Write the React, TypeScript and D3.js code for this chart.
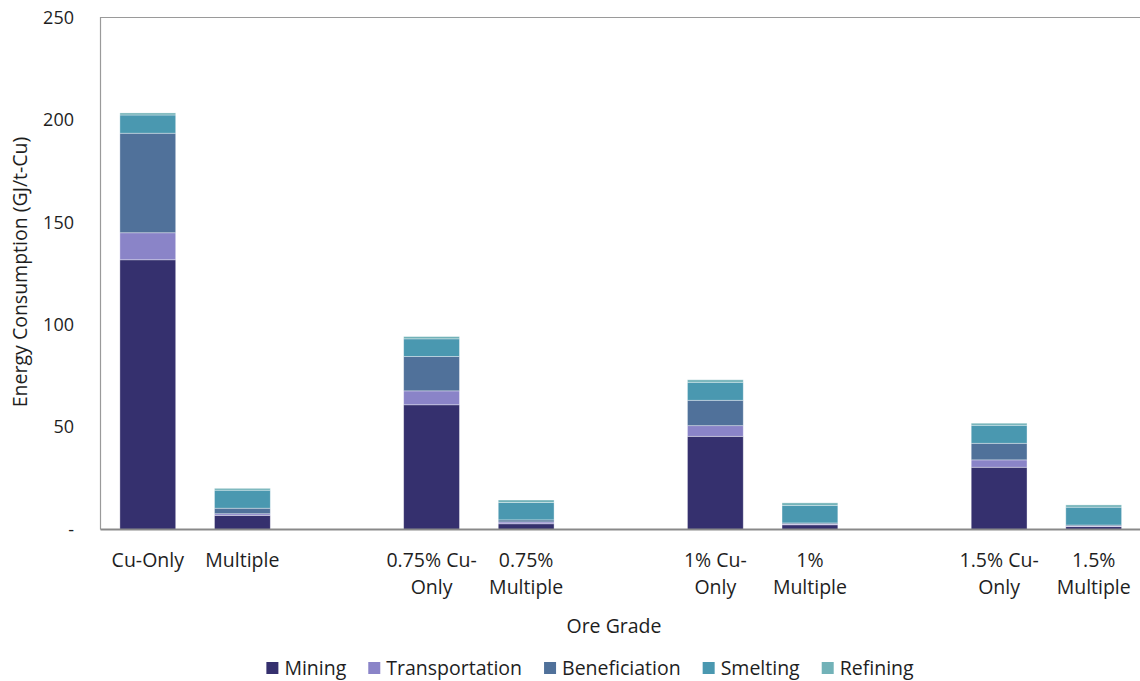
import { useRef, useEffect } from "react";
import * as d3 from "d3";

const categories = ["Cu-Only", "Multiple", "gap1", "0.75% Cu-Only", "0.75% Multiple", "gap2", "1% Cu-Only", "1% Multiple", "gap3", "1.5% Cu-Only", "1.5% Multiple"];
const categoryLines: string[][] = [["Cu-Only"], ["Multiple"], [], ["0.75% Cu-", "Only"], ["0.75%", "Multiple"], [], ["1% Cu-", "Only"], ["1%", "Multiple"], [], ["1.5% Cu-", "Only"], ["1.5%", "Multiple"]];

const mining = [131.7, 6.9, 0, 60.9, 2.8, 0, 45.5, 2.3, 0, 30.4, 1.4];
const transportation = [13.2, 0.8, 0, 6.8, 0.9, 0, 5.2, 0.4, 0, 3.6, 0.3];
const beneficiation = [48.6, 2.7, 0, 16.8, 1.0, 0, 12.4, 0.5, 0, 8.1, 0.5];
const smelting = [8.9, 8.8, 0, 8.6, 8.5, 0, 8.8, 8.6, 0, 8.8, 8.7];
const refining = [1.0, 0.9, 0, 1.1, 1.2, 0, 1.2, 1.2, 0, 1.0, 1.1];

const seriesNames = ["Mining", "Transportation", "Beneficiation", "Smelting", "Refining"];
const seriesColors = ["#35306e", "#8a84c8", "#50719a", "#4a98b0", "#72b2b8"];
const yTicks = [0, 50, 100, 150, 200, 250];

const FONT = "'Open Sans', sans-serif";
const FS = 19.5;

export default function App() {
  const ref = useRef<SVGSVGElement>(null);

  useEffect(() => {
    document.body.style.margin = "0";
    if (!ref.current) return;
    const svg = d3.select(ref.current);
    svg.selectAll("*").remove();

    const left = 100.5, right = 1141, top = 17.5, bottom = 529.5;
    const allSeries = [mining, transportation, beneficiation, smelting, refining];
    const rows = categories.map((c, i) => {
      const r: any = { cat: c };
      seriesNames.forEach((s, j) => (r[s] = allSeries[j][i]));
      return r;
    });
    const stacked = d3.stack<any>().keys(seriesNames)(rows);

    const x = d3.scaleBand().domain(categories).range([left, right]).paddingInner(0.41).paddingOuter(0.205);
    const y = d3.scaleLinear().domain([0, 250]).range([bottom, top]);

    // frame
    svg.append("path")
      .attr("d", `M${right + 10},${top}H${left}V${bottom}`)
      .attr("fill", "none").attr("stroke", "#9a9a9a").attr("stroke-width", 1.2);

    // bars
    stacked.forEach((layer, j) => {
      svg.append("g").selectAll("rect").data(layer).enter().append("rect")
        .attr("x", (d: any) => x(d.data.cat)!)
        .attr("width", x.bandwidth())
        .attr("y", d => y(d[1]))
        .attr("height", d => Math.max(0, y(d[0]) - y(d[1])))
        .attr("fill", seriesColors[j])
        .attr("stroke", "rgba(255,255,255,0.45)")
        .attr("stroke-width", 0.8);
    });

    // bottom axis line
    svg.append("line").attr("x1", left).attr("x2", right + 10).attr("y1", bottom).attr("y2", bottom)
      .attr("stroke", "#898989").attr("stroke-width", 2);

    // y tick labels
    svg.append("g").selectAll("text").data(yTicks).enter().append("text")
      .attr("x", 74).attr("y", d => y(d)).attr("dy", "0.35em")
      .attr("text-anchor", "end").attr("font-family", FONT).attr("font-size", 18).attr("fill", "#1e1e1e")
      .text(d => (d === 0 ? "-" : String(d)));

    // x labels
    categories.forEach((c, i) => {
      const t = svg.append("text").attr("text-anchor", "middle").attr("font-family", FONT)
        .attr("font-size", FS).attr("fill", "#1e1e1e");
      categoryLines[i].forEach((line, k) => {
        t.append("tspan").attr("x", x(c)! + x.bandwidth() / 2).attr("y", 560 + k * 27).attr("dy", "0.35em").text(line);
      });
    });

    // axis titles
    svg.append("text").attr("x", 614).attr("y", 626).attr("dy", "0.35em").attr("text-anchor", "middle")
      .attr("font-family", FONT).attr("font-size", FS).attr("fill", "#1e1e1e").text("Ore Grade");
    svg.append("text").attr("transform", "translate(20,272) rotate(-90)").attr("dy", "0.35em")
      .attr("text-anchor", "middle").attr("font-family", FONT).attr("font-size", FS).attr("fill", "#1e1e1e")
      .text("Energy Consumption (GJ/t-Cu)");

    // legend
    const lg = svg.append("g");
    const gap = 22;
    let cx = 0;
    seriesNames.forEach((s, j) => {
      const g = lg.append("g").attr("transform", `translate(${cx},0)`);
      g.append("rect").attr("x", 0).attr("y", -6).attr("width", 12).attr("height", 12).attr("fill", seriesColors[j]);
      const t = g.append("text").attr("x", 18).attr("y", 0).attr("dy", "0.35em").attr("font-family", FONT)
        .attr("font-size", FS).attr("fill", "#1e1e1e").text(s);
      const w = 18 + (t.node() as SVGTextElement).getComputedTextLength();
      cx += w + gap;
    });
    const total = cx - gap;
    lg.attr("transform", `translate(${590 - total / 2},668)`);
  }, []);

  return <svg ref={ref} width={1140} height={681} style={{ display: "block" }} />;
}
